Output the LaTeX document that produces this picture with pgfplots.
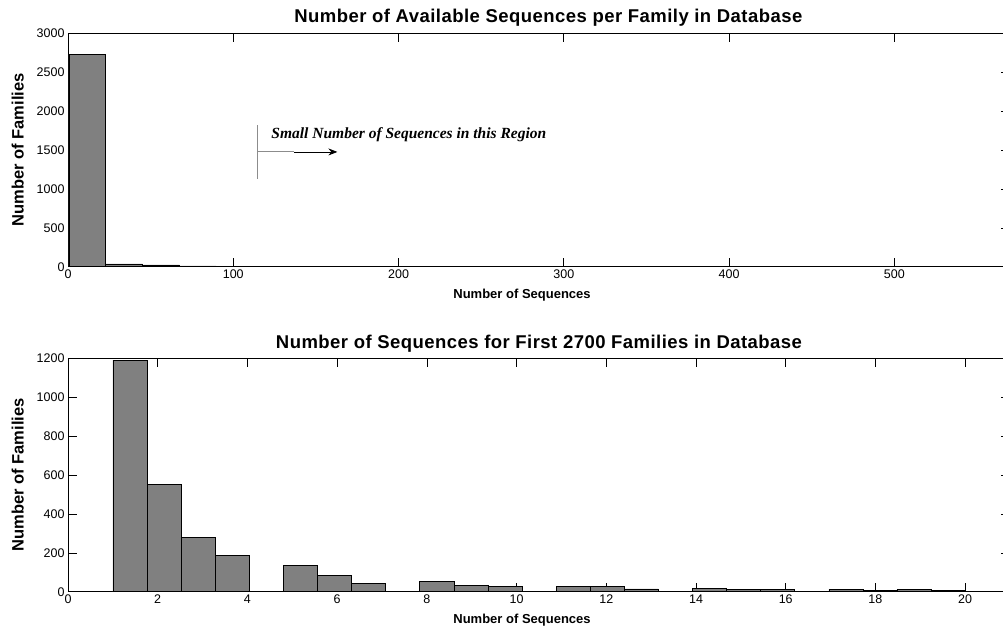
\documentclass[border=0pt]{standalone}
\usepackage{fontspec}
\setmainfont{Liberation Sans}
\newfontfamily\titlefont[LetterSpace=2.5]{Liberation Sans}
\newfontfamily\annfont{Liberation Serif}
\usepackage{pgfplots}
\pgfplotsset{compat=1.18}
\usetikzlibrary{arrows.meta}
\definecolor{bargray}{RGB}{128,128,128}
\definecolor{linegray}{RGB}{140,140,140}
\begin{document}
\begin{tikzpicture}
\pgfplotsset{
  mystyle/.style={
    scale only axis,
    width=942pt, height=233.4pt,
    anchor=south west,
    ymin=0,
    axis line style={black, line width=0.8pt},
    tick style={black, line width=0.6pt},
    tick align=inside,
    major tick length=9pt,
    minor tick num=0,
    ticklabel style={font=\fontsize{12.5}{13}\selectfont},
    /pgf/number format/assume math mode=true,
    /pgf/number format/1000 sep={},
    scaled y ticks=false,
    every axis x label/.style={at={(axis description cs:0.482,-0.122)},anchor=center,font=\bfseries\fontsize{13}{15}\selectfont},
    every axis y label/.style={at={(axis description cs:-0.0535,0.5)},rotate=90,anchor=center,font=\bfseries\fontsize{16.5}{18}\selectfont},
  }
}
% Top histogram
\begin{axis}[mystyle,
  at={(68pt,363.3pt)},
  xmin=0, xmax=570,
  ymax=3000,
  xtick={0,100,200,300,400,500},
  ytick={0,500,1000,1500,2000,2500,3000},
  title={Number of Available Sequences per Family in Database},
  every axis title/.style={at={(axis description cs:0.510,1.046)},anchor=base,font=\titlefont\bfseries\fontsize{18.5}{20}\selectfont},
  xlabel={Number of Sequences},
  ylabel={Number of Families},
]
\addplot[ybar interval, fill=bargray, draw=black, line width=0.5pt] coordinates {
(0.5,2730) (22.8,35) (45.1,22) (67.4,10) (89.7,0) (112.0,0) (134.3,8)
(156.6,0) (178.9,0) (201.2,0) (223.5,0) (245.8,0) (268.1,0) (290.4,0)
(312.7,0) (335.0,0) (357.3,0) (379.6,0) (401.9,0) (424.2,0) (446.5,0)
(468.8,0) (491.1,0) (513.4,0) (535.7,8) (558.0,8)
};
\draw[linegray, line width=1pt] (axis cs:114.8,1128) -- (axis cs:114.8,1822);
\draw[linegray, line width=1pt] (axis cs:114.8,1475) -- (axis cs:136.6,1475);
\draw[black, line width=0.8pt, -{Stealth[length=9pt,width=7pt]}] (axis cs:136.6,1475) -- (axis cs:163,1475);
\node[anchor=base west, inner sep=0pt, font=\annfont\bfseries\itshape\fontsize{15.5}{17}\selectfont] at (axis cs:123,1642) {Small Number of Sequences in this Region};
\end{axis}
% Bottom histogram
\begin{axis}[mystyle,
  at={(68pt,38.3pt)},
  xmin=0, xmax=21,
  ymax=1200,
  xtick={0,2,4,6,8,10,12,14,16,18,20},
  ytick={0,200,400,600,800,1000,1200},
  title={Number of Sequences for First 2700 Families in Database},
  every axis title/.style={at={(axis description cs:0.500,1.043)},anchor=base,font=\titlefont\bfseries\fontsize{18.5}{20}\selectfont},
  xlabel={Number of Sequences},
  ylabel={Number of Families},
]
\addplot[ybar interval, fill=bargray, draw=black, line width=0.5pt] coordinates {
(1.00,1190) (1.76,550) (2.52,281) (3.28,187) (4.04,0) (4.80,136) (5.56,84)
(6.32,43) (7.08,0) (7.84,53) (8.60,33) (9.36,29) (10.12,0) (10.88,26)
(11.64,26) (12.40,14) (13.16,0) (13.92,19) (14.68,12) (15.44,12) (16.20,0)
(16.96,12) (17.72,8) (18.48,11) (19.24,5) (20.00,5)
};
\end{axis}
\pgfresetboundingbox
\useasboundingbox (0pt,0pt) rectangle (1003pt,630pt);
\end{tikzpicture}
\end{document}
